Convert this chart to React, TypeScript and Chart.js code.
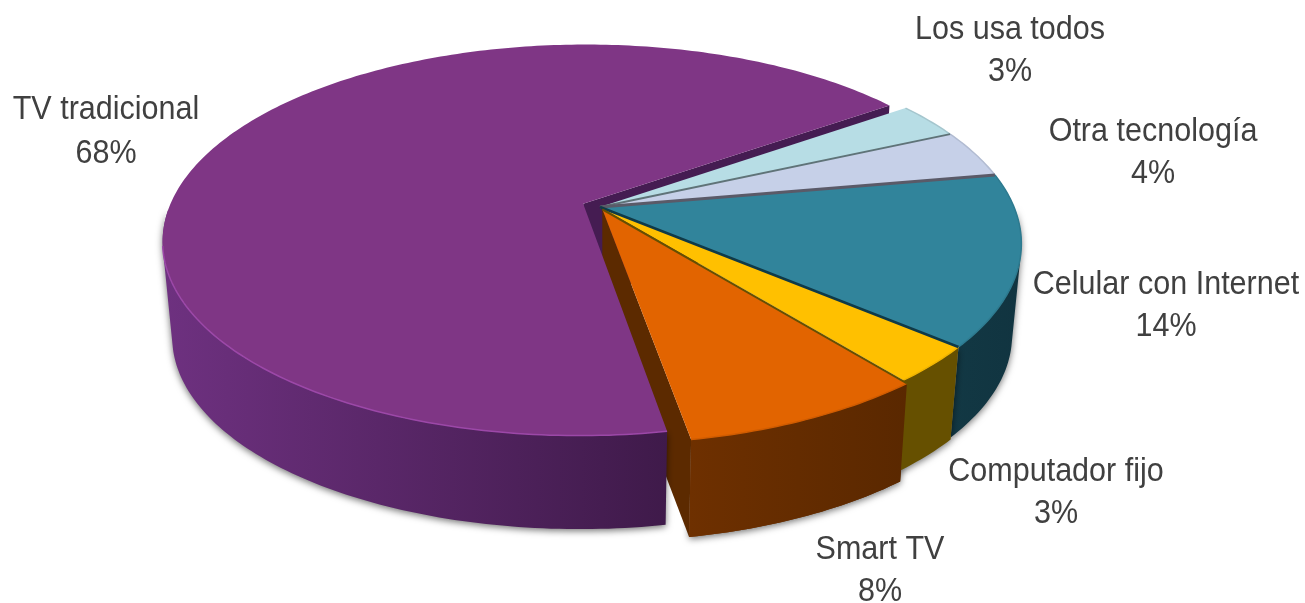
import React, { useEffect, useRef } from "react";
import { Chart, registerables } from "chart.js";

Chart.register(...registerables);

const categories = ["TV tradicional", "Los usa todos", "Otra tecnología", "Celular con Internet", "Computador fijo", "Smart TV"];
const shares = [68, 3, 4, 14, 3, 8];

const topColors = ["#7f3685", "#b7dde5", "#c6d0e8", "#31849b", "#ffc000", "#e26400"];
const wallLeft = ["#6e3180", "#7a9aa0", "#8a92a2", "#123844", "#665000", "#6e3000"];
const wallRight = ["#3f1a4a", "#7a9aa0", "#8a92a2", "#113440", "#665000", "#5a2800"];
const rimColors = ["#9c48a8", "#a5c6ce", "#b2bcd2", "#2d7a8f", "#f0b400", "#d05c00"];
const cutWallColors = ["#451c52", "", "", "", "", "#5c2a00"];
const edgeColors = ["", "", "#5f7378", "#5a5a68", "#0f3a48", "#665000"];
const edgeWidths = [0, 0, 2, 3, 2.5, 2];
const sliceOffsets = [13, 0, 0, 0, 0, 4];
const sliceDepths = [96, 92, 92, 92, 94, 100];

const labelCenters = [106, 1010, 1153, 1166, 1056, 880];
const labelBaselines = [119, 39, 141, 294, 481, 559];
const labelLineGaps = [44, 42, 42, 42, 42, 42];

const CX = 600, CY = 207, A = 414, B = 190, K = 0.186, SHRINK = 0.022;

function project(u: number, v: number, depth: number) {
  const w = 1 - K * v;
  const z = depth > 0 ? 1 : 0;
  const s = 1 - SHRINK * z;
  return { x: CX + (A * u / w) * s, y: CY + (B * v / w) * (z ? 1 - SHRINK / 2 : 1) + depth };
}

function sliceGeom(el: any, i: number) {
  const mid = (el.startAngle + el.endAngle) / 2;
  const off = sliceOffsets[i] / el.outerRadius;
  return { ou: Math.cos(mid) * off, ov: Math.sin(mid) * off, a0: el.startAngle, a1: el.endAngle, depth: sliceDepths[i] };
}

function rimAngles(g: any) {
  const n = Math.max(8, Math.ceil((g.a1 - g.a0) * 60));
  const out: number[] = [];
  for (let j = 0; j <= n; j++) out.push(g.a0 + ((g.a1 - g.a0) * j) / n);
  return out;
}

function rimPoints(g: any) {
  return rimAngles(g).map((a) => project(g.ou + Math.cos(a), g.ov + Math.sin(a), 0));
}

function tracePath(ctx: CanvasRenderingContext2D, pts: { x: number; y: number }[], close = true) {
  ctx.beginPath();
  pts.forEach((p, i) => (i ? ctx.lineTo(p.x, p.y) : ctx.moveTo(p.x, p.y)));
  if (close) ctx.closePath();
}

function drawOuterWall(ctx: CanvasRenderingContext2D, g: any, i: number, shadow: boolean) {
  const angles = rimAngles(g).filter((a) => g.ov + Math.sin(a) > 0);
  if (angles.length < 2) return;
  const quads: { x: number; y: number }[][] = [];
  for (let j = 0; j < angles.length - 1; j++) {
    if (angles[j + 1] - angles[j] > 0.2) continue;
    const p = (a: number, d: number) => project(g.ou + Math.cos(a), g.ov + Math.sin(a), d);
    const q = [p(angles[j], 0), p(angles[j + 1], 0), p(angles[j + 1], g.depth), p(angles[j], g.depth)];
    let area = 0;
    q.forEach((c, k) => {
      const d = q[(k + 1) % 4];
      area += c.x * d.y - d.x * c.y;
    });
    quads.push(area < 0 ? q.reverse() : q);
  }
  const xs = quads.flat().map((p) => p.x);
  const grad = ctx.createLinearGradient(Math.min(...xs), 0, Math.max(...xs), 0);
  grad.addColorStop(0, wallLeft[i]);
  grad.addColorStop(1, wallRight[i]);
  ctx.save();
  if (shadow) {
    ctx.shadowColor = "rgba(0,0,0,0.55)";
    ctx.shadowBlur = 7;
    ctx.shadowOffsetY = 2;
  }
  ctx.fillStyle = grad;
  ctx.beginPath();
  quads.forEach((q) => {
    q.forEach((c, k) => (k ? ctx.lineTo(c.x, c.y) : ctx.moveTo(c.x, c.y)));
    ctx.closePath();
  });
  ctx.fill();
  ctx.restore();
}

function drawRadialWall(ctx: CanvasRenderingContext2D, g: any, angle: number, color: string) {
  const pts = [
    project(g.ou, g.ov, 0),
    project(g.ou + Math.cos(angle), g.ov + Math.sin(angle), 0),
    project(g.ou + Math.cos(angle), g.ov + Math.sin(angle), g.depth),
    project(g.ou, g.ov, g.depth),
  ];
  ctx.fillStyle = color;
  tracePath(ctx, pts);
  ctx.fill();
}

function drawTop(ctx: CanvasRenderingContext2D, g: any, i: number) {
  const rim = rimPoints(g);
  ctx.fillStyle = topColors[i];
  tracePath(ctx, [project(g.ou, g.ov, 0), ...rim]);
  ctx.fill();
  ctx.strokeStyle = rimColors[i];
  ctx.lineWidth = 1.5;
  tracePath(ctx, i === 0 ? rim.filter((p) => p.y > 245) : rim, false);
  ctx.stroke();
}

const pie3d = {
  id: "pie3d",
  beforeDatasetDraw(chart: any) {
    const ctx: CanvasRenderingContext2D = chart.ctx;
    const arcs = chart.getDatasetMeta(0).data;
    const geoms = arcs.map((el: any, i: number) => sliceGeom(el, i));
    const last = arcs.length - 1;
    ctx.save();
    ctx.lineJoin = "round";
    drawRadialWall(ctx, geoms[0], geoms[0].a1, cutWallColors[0]);
    drawOuterWall(ctx, geoms[last], last, true);
    drawRadialWall(ctx, geoms[last], geoms[last].a1, cutWallColors[last]);
    drawOuterWall(ctx, geoms[0], 0, true);
    drawTop(ctx, geoms[0], 0);
    for (let i = 1; i <= last; i++) drawOuterWall(ctx, geoms[i], i, i !== last);
    for (let i = 1; i <= last; i++) drawTop(ctx, geoms[i], i);
    for (let i = 2; i <= last; i++) {
      const g = geoms[i];
      ctx.strokeStyle = edgeColors[i];
      ctx.lineWidth = edgeWidths[i];
      const a = project(g.ou, g.ov, 0);
      const b = project(g.ou + Math.cos(g.a0), g.ov + Math.sin(g.a0), 0);
      ctx.beginPath();
      ctx.moveTo(a.x, a.y);
      ctx.lineTo(b.x, b.y);
      ctx.stroke();
    }
    ctx.restore();
    return false;
  },
  afterDraw(chart: any) {
    const ctx: CanvasRenderingContext2D = chart.ctx;
    ctx.save();
    ctx.font = '33px "Liberation Sans"';
    ctx.fillStyle = "#404040";
    ctx.textBaseline = "alphabetic";
    categories.forEach((name, i) => {
      const lines = [name, `${shares[i]}%`];
      lines.forEach((t, j) => {
        ctx.save();
        ctx.translate(labelCenters[i], labelBaselines[i] + j * labelLineGaps[i]);
        ctx.scale(0.925, 1);
        ctx.textAlign = "center";
        ctx.fillText(t, 0, 0);
        ctx.restore();
      });
    });
    ctx.restore();
  },
};

export default function App() {
  const ref = useRef<HTMLCanvasElement>(null);
  useEffect(() => {
    const chart = new Chart(ref.current!, {
      type: "pie",
      data: {
        labels: categories,
        datasets: [{ data: shares, backgroundColor: topColors, borderWidth: 0, offset: sliceOffsets }],
      },
      options: {
        responsive: false,
        animation: false,
        rotation: 170,
        plugins: { legend: { display: false }, tooltip: { enabled: false } },
      },
      plugins: [pie3d],
    } as any);
    return () => chart.destroy();
  }, []);
  return (
    <div style={{ position: "fixed", left: 0, top: 0, width: 1305, height: 603, background: "#fff" }}>
      <canvas ref={ref} width={1305} height={603} style={{ display: "block" }} />
    </div>
  );
}
